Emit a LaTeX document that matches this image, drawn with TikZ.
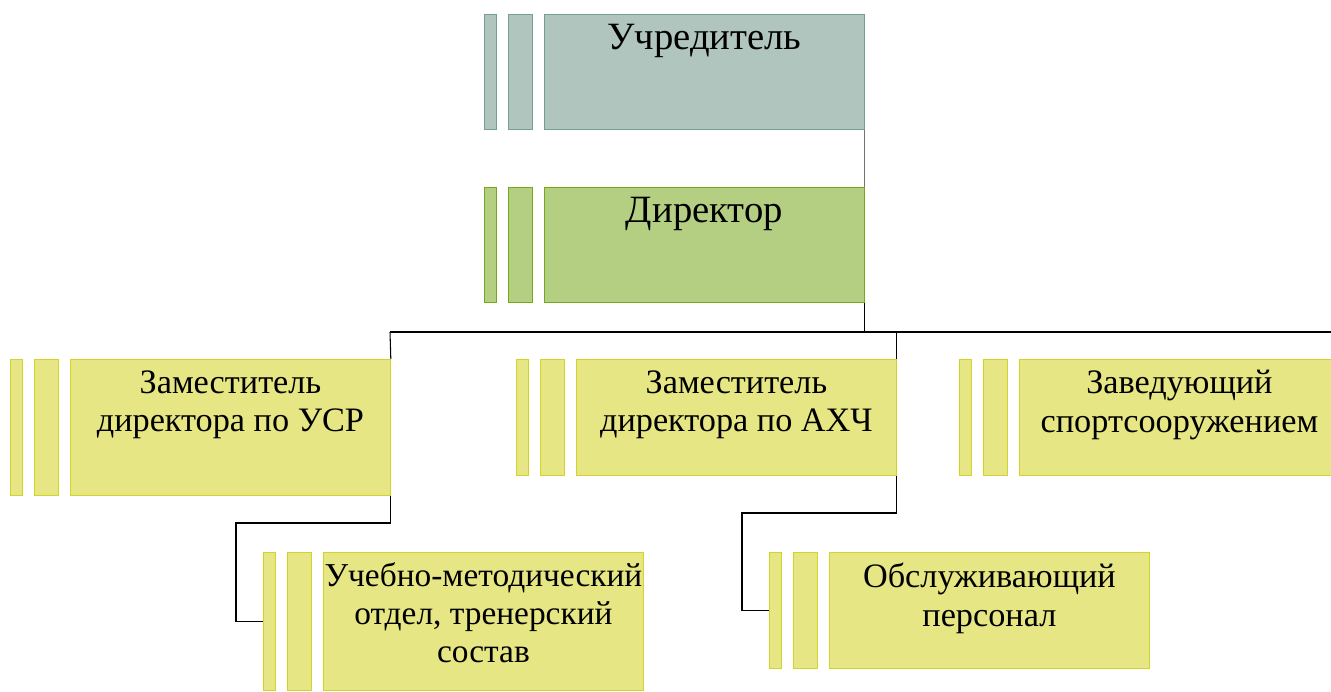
\documentclass[tikz,border=0pt]{standalone}
\usepackage{fontspec}
\setmainfont{Liberation Serif}
\usepackage{xcolor}
\usetikzlibrary{positioning}
\definecolor{uchrfill}{RGB}{176,197,190}
\definecolor{uchrline}{RGB}{118,158,148}
\definecolor{dirfill}{RGB}{180,206,130}
\definecolor{dirline}{RGB}{118,168,28}
\definecolor{yelfill}{RGB}{230,230,132}
\definecolor{yelline}{RGB}{212,212,40}
\tikzstyle{unit} = [rectangle, line width=0.5pt, minimum width=6.4cm,
    inner sep=0pt, anchor=north west]
\tikzstyle{bar} = [rectangle, line width=0.5pt, inner sep=0pt]
\tikzstyle{widebar} = [bar, minimum width=0.48cm]
\tikzstyle{thinbar} = [bar, minimum width=0.24cm]
\tikzstyle{gr} = [draw=uchrline, fill=uchrfill]
\tikzstyle{gn} = [draw=dirline, fill=dirfill]
\tikzstyle{yl} = [draw=yelline, fill=yelfill]
\tikzstyle{caption} = [align=center, inner sep=0pt,
    font=\fontsize{19.5}{21.8}\selectfont]
\tikzstyle{bigcaption} = [caption, font=\fontsize{22}{24.6}\selectfont]
\tikzstyle{link} = [draw=black, line width=0.6pt]

\begin{document}
\begin{tikzpicture}[x=0.02cm,y=-0.02cm]
  \useasboundingbox (0,0) rectangle (1331,691);

  \node[unit,gr,minimum height=2.3cm] (uchr) at (544,14) {};
  \node[widebar,gr,minimum height=2.3cm,left=0.22cm of uchr] (uchr-b2) {};
  \node[thinbar,gr,minimum height=2.3cm,left=0.22cm of uchr-b2] (uchr-b1) {};
  \node[bigcaption,below=0.2cm of uchr.north] {Учредитель};

  \node[unit,gn,minimum height=2.3cm] (dir) at (544,187) {};
  \node[widebar,gn,minimum height=2.3cm,left=0.22cm of dir] (dir-b2) {};
  \node[thinbar,gn,minimum height=2.3cm,left=0.22cm of dir-b2] (dir-b1) {};
  \node[bigcaption,below=0.2cm of dir.north] {Директор};

  \node[unit,yl,minimum height=2.72cm] (zam-usr) at (70,359) {};
  \node[widebar,yl,minimum height=2.72cm,left=0.22cm of zam-usr] (zam-usr-b2) {};
  \node[thinbar,yl,minimum height=2.72cm,left=0.22cm of zam-usr-b2] (zam-usr-b1) {};
  \node[caption,below=0.22cm of zam-usr.north] {Заместитель\\директора по УСР};

  \node[unit,yl,minimum height=2.32cm] (zam-ahch) at (576,359) {};
  \node[widebar,yl,minimum height=2.32cm,left=0.22cm of zam-ahch] (zam-ahch-b2) {};
  \node[thinbar,yl,minimum height=2.32cm,left=0.22cm of zam-ahch-b2] (zam-ahch-b1) {};
  \node[caption,below=0.22cm of zam-ahch.north] {Заместитель\\директора по АХЧ};

  \node[unit,yl,minimum height=2.32cm] (zav) at (1019,359) {};
  \node[widebar,yl,minimum height=2.32cm,left=0.22cm of zav] (zav-b2) {};
  \node[thinbar,yl,minimum height=2.32cm,left=0.22cm of zav-b2] (zav-b1) {};
  \node[caption,below=0.22cm of zav.north] {Заведующий\\спортсооружением};

  \node[unit,yl,minimum height=2.76cm] (uchm) at (323,552) {};
  \node[widebar,yl,minimum height=2.76cm,left=0.22cm of uchm] (uchm-b2) {};
  \node[thinbar,yl,minimum height=2.76cm,left=0.22cm of uchm-b2] (uchm-b1) {};
  \node[caption,font=\fontsize{19}{21.8}\selectfont,below=0.2cm of uchm.north] {Учебно-методический\\отдел, тренерский\\состав};

  \node[unit,yl,minimum height=2.32cm] (obsl) at (829,552) {};
  \node[widebar,yl,minimum height=2.32cm,left=0.22cm of obsl] (obsl-b2) {};
  \node[thinbar,yl,minimum height=2.32cm,left=0.22cm of obsl-b2] (obsl-b1) {};
  \node[caption,below=0.22cm of obsl.north] {Обслуживающий\\персонал};

  \coordinate (bus) at (390,332);
  \coordinate (busend) at (1331,332);
  \coordinate (k1) at (236,523);
  \coordinate (k2) at (742,513);

  \draw[link,draw=black!55] (uchr.south east) -- (dir.north east);
  \draw[link] (dir.south east) -- (dir.south east |- bus);
  \draw[link] (bus) -- (busend);
  \draw[link] (bus) -- (zam-usr.north east);
  \draw[link] (zam-ahch.north east |- bus) -- (zam-ahch.north east);
  \draw[link] (zam-usr.south east) |- (k1) |- (uchm-b1.west);
  \draw[link] (zam-ahch.south east) |- (k2) |- (obsl-b1.west);
\end{tikzpicture}
\end{document}
